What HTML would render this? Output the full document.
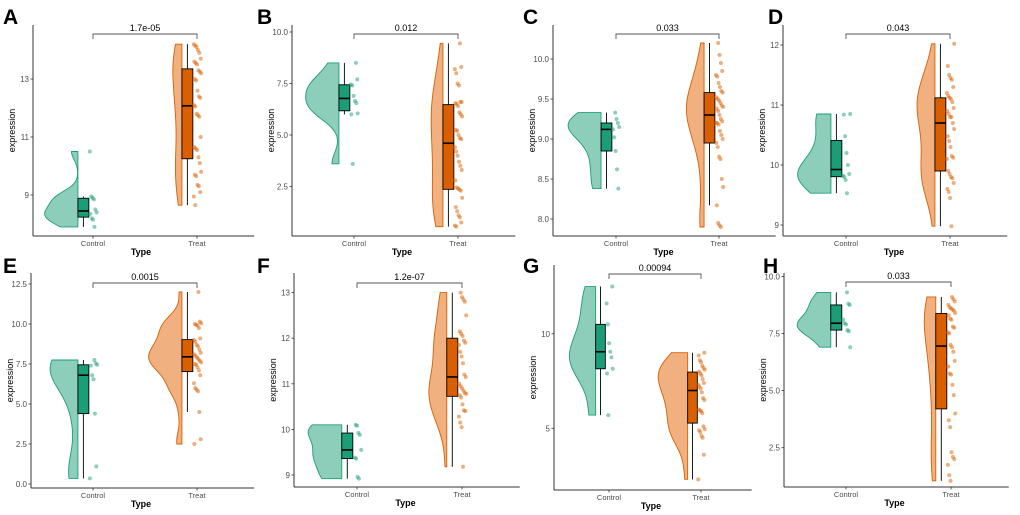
<!DOCTYPE html>
<html><head><meta charset="utf-8"><style>
html,body{margin:0;padding:0;background:#fff;}
svg{display:block;font-family:"Liberation Sans",sans-serif;}
</style></head><body>
<svg id="fig" width="1020" height="515" viewBox="0 0 1020 515" xmlns="http://www.w3.org/2000/svg"></svg>
<script>
// ---- data ----
const categories = ["Control","Treat"];
const ctrlA = [10.5,8.95,8.9,8.85,8.5,8.4,8.35,8.2,8.15,7.9];
const treatA = [14.2,14.15,14.1,14.0,13.9,13.7,13.6,13.55,13.5,13.3,13.25,13.2,13.0,12.95,12.6,12.4,12.35,12.1,12.05,11.8,11.75,11.7,11.0,10.65,10.6,10.55,10.3,10.1,9.8,9.7,9.65,9.35,9.3,9.1,8.95,8.65];
const ticksA = [9,11,13];
const ctrlB = [8.5,7.7,7.45,7.4,6.9,6.65,6.55,6.05,6.0,3.6];
const treatB = [9.45,8.3,8.2,8.0,7.5,7.4,6.6,6.6,6.55,6.5,6.4,6.1,6.0,5.9,5.25,5.2,5.0,4.85,4.8,4.4,4.2,4.0,3.7,3.5,3.3,2.8,2.45,2.4,2.35,2.3,1.95,1.5,1.3,1.1,1.0,0.75,0.6,0.55];
const ticksB = [2.5,5.0,7.5,10.0];
const ctrlC = [9.33,9.25,9.2,9.15,9.12,9.02,8.85,8.62,8.38];
const treatC = [10.2,10.05,9.95,9.85,9.8,9.78,9.7,9.65,9.6,9.58,9.52,9.5,9.48,9.45,9.42,9.4,9.38,9.35,9.3,9.25,9.22,9.2,9.2,9.18,9.1,9.05,9.0,8.95,8.9,8.78,8.75,8.5,8.4,8.17,7.95,7.92,7.9];
const ticksC = [8.0,8.5,9.0,9.5,10.0];
const ctrlD = [10.85,10.84,10.48,10.2,10.0,9.85,9.82,9.8,9.75,9.53];
const treatD = [12.02,11.65,11.5,11.45,11.42,11.3,11.2,11.15,11.12,11.1,11.05,10.95,10.9,10.85,10.8,10.8,10.7,10.6,10.48,10.4,10.3,10.15,10.12,10.1,9.9,9.85,9.8,9.78,9.7,9.6,9.55,9.45,8.98];
const ticksD = [9,10,11,12];
const ctrlE = [7.75,7.55,7.45,7.4,6.8,6.55,4.4,1.1,0.35];
const treatE = [12.0,10.15,10.05,10.0,9.95,9.9,9.75,9.1,9.0,8.9,8.7,8.6,8.4,8.2,8.1,8.0,7.9,7.8,7.7,7.6,7.5,7.45,7.3,7.1,6.8,6.3,6.0,5.9,5.8,4.5,2.8,2.5];
const ticksE = [0.0,2.5,5.0,7.5,10.0,12.5];
const ctrlF = [10.1,10.08,9.92,9.88,9.55,9.38,9.36,8.96,8.92];
const treatF = [13.0,12.9,12.85,12.8,12.5,12.15,12.1,12.05,11.95,11.9,11.85,11.7,11.6,11.45,11.2,11.15,11.0,10.95,10.9,10.85,10.8,10.78,10.75,10.7,10.55,10.42,10.4,10.28,10.15,10.05,9.18];
const ticksF = [9,10,11,12,13];
const ctrlG = [12.5,11.6,10.5,9.5,9.05,8.75,8.15,7.9,5.7];
const treatG = [9.0,8.85,8.6,8.5,8.3,8.2,8.1,8.0,7.9,7.8,7.6,7.4,7.3,7.2,7.1,6.9,6.6,6.5,6.0,5.95,5.9,5.8,5.1,4.95,4.9,4.8,4.6,4.5,3.6,2.3];
const ticksG = [5,10];
const ctrlH = [9.3,8.8,8.75,8.1,7.95,7.9,7.65,7.6,6.9];
const treatH = [9.1,9.0,8.9,8.75,8.65,8.6,8.55,8.5,8.4,8.3,8.15,8.1,7.8,7.75,7.55,7.5,7.0,6.9,6.7,6.3,6.05,5.75,5.7,5.25,4.8,4.0,3.7,3.4,2.3,2.1,2.0,1.75,1.3,1.05];
const ticksH = [2.5,5.0,7.5,10.0];
const pLabels = ["1.7e-05","0.012","0.033","0.043","0.0015","1.2e-07","0.00094","0.033"];
const tickDigits = [0,1,1,0,1,0,0,1];

// ---- layout (pixel calibration per panel) ----
const panels = [
 {id:"A",ctrl:ctrlA,treat:treatA,ticks:ticksA,ax:33,top:25,bot:236,cx:[93,197],v0:9,y0:195,ppu:29,br:34,lx:3,ly:24},
 {id:"B",ctrl:ctrlB,treat:treatB,ticks:ticksB,ax:292,top:25,bot:236,cx:[354,458],v0:5,y0:135,ppu:20.6,br:34,lx:257,ly:24},
 {id:"C",ctrl:ctrlC,treat:treatC,ticks:ticksC,ax:553,top:25,bot:236,cx:[616,719],v0:8,y0:219,ppu:80,br:34,lx:523,ly:24},
 {id:"D",ctrl:ctrlD,treat:treatD,ticks:ticksD,ax:783,top:25,bot:236,cx:[846,950],v0:9,y0:225,ppu:60,br:34,lx:768,ly:24},
 {id:"E",ctrl:ctrlE,treat:treatE,ticks:ticksE,ax:31,top:273,bot:488,cx:[93,197],v0:0,y0:484,ppu:16,br:283,lx:3,ly:273},
 {id:"F",ctrl:ctrlF,treat:treatF,ticks:ticksF,ax:294,top:273,bot:487,cx:[357,462],v0:9,y0:475,ppu:45.6,br:283,lx:257,ly:273},
 {id:"G",ctrl:ctrlG,treat:treatG,ticks:ticksG,ax:554,top:265,bot:490,cx:[609,701],v0:5,y0:428.3,ppu:18.9,br:274,lx:523,ly:273},
 {id:"H",ctrl:ctrlH,treat:treatH,ticks:ticksH,ax:784,top:273,bot:487,cx:[846,951],v0:2.5,y0:447.7,ppu:22.84,br:282,lx:763,ly:273}
];
const fills=[["#8dcebb","#1b9e77","#1b9e77"],["#f0b07f","#d95f02","#d95f02"]];
const NS="http://www.w3.org/2000/svg";
const svg=document.getElementById("fig");
function mk(tag,attrs,parent,text){const e=document.createElementNS(NS,tag);for(const k in attrs)e.setAttribute(k,attrs[k]);if(text!==undefined)e.textContent=text;(parent||svg).appendChild(e);return e;}
function quant(s,p){const h=(s.length-1)*p,l=Math.floor(h),u=Math.ceil(h);return s[l]+(s[u]-s[l])*(h-l);}
function sd(a){const m=a.reduce((x,y)=>x+y,0)/a.length;return Math.sqrt(a.reduce((x,y)=>x+(y-m)*(y-m),0)/(a.length-1));}
function bw(a){const s=[...a].sort((x,y)=>x-y);const iqr=quant(s,.75)-quant(s,.25);let lo=Math.min(sd(a),iqr/1.34);if(!(lo>0))lo=sd(a)||1;return 0.9*lo*Math.pow(a.length,-0.2);}
function dens(a,h,x){let t=0;for(const v of a){const z=(x-v)/h;t+=Math.exp(-0.5*z*z);}return t/(a.length*h*Math.sqrt(2*Math.PI));}

panels.forEach((P,pi)=>{
 const g=mk("g",{});
 
 
 const Y=v=>P.y0-(v-P.v0)*P.ppu;
 const d=P.cx[1]-P.cx[0];
 const X=i=>P.cx[i];
 // letter
 const L=mk("text",{x:P.lx,y:P.ly,"font-size":21,"font-weight":"bold",fill:"#000"},g,P.id);
 
 
 // axes
 const right=P.cx[1]+0.55*d;
 const ya=mk("line",{x1:P.ax,y1:P.top,x2:P.ax,y2:P.bot,stroke:"#333","stroke-width":1},g);
 
 
 const xa=mk("line",{x1:P.ax,y1:P.bot,x2:right,y2:P.bot,stroke:"#333","stroke-width":1},g);
 
 
 P.ticks.forEach(t=>{
  mk("line",{x1:P.ax-2.5,y1:Y(t),x2:P.ax,y2:Y(t),stroke:"#333","stroke-width":0.8},g);
  const tl=mk("text",{x:P.ax-4,y:Y(t)+3,"font-size":8,fill:"#4d4d4d","text-anchor":"end"},g,t.toFixed(tickDigits[pi]));
  
  
 });
 categories.forEach((c,i)=>{
  mk("line",{x1:X(i),y1:P.bot,x2:X(i),y2:P.bot+2.5,stroke:"#333","stroke-width":0.8},g);
  const xl=mk("text",{x:X(i),y:P.bot+10,"font-size":7.5,fill:"#4d4d4d","text-anchor":"middle"},g,c);
  
  
 });
 const xt=mk("text",{x:(P.cx[0]+P.cx[1])/2-4,y:P.bot+19,"font-size":9,"font-weight":"bold",fill:"#000","text-anchor":"middle"},g,"Type");
 
 
 const ymid=(P.top+P.bot)/2;
 const yt=mk("text",{x:0,y:0,"font-size":9,fill:"#000","text-anchor":"middle",transform:`translate(${P.ax-18},${ymid}) rotate(-90)`},g,"expression");
 
 
 // densities
 const groups=[P.ctrl,P.treat];
 const curves=groups.map(a=>{const h=bw(a),mn=Math.min(...a),mx=Math.max(...a);const pts=[];for(let k=0;k<=60;k++){const v=mn+(mx-mn)*k/60;pts.push([v,dens(a,h,v)]);}return pts;});
 const maxD=Math.max(...curves.map(c=>Math.max(...c.map(p=>p[1]))));
 const maxW=0.32*d;
 groups.forEach((a,i)=>{
  const cvr=curves[i];const vr=X(i)-0.145*d;
  let path=`M${vr},${Y(cvr[0][0])}`;
  cvr.forEach(p=>{path+=` L${(vr-p[1]/maxD*maxW).toFixed(2)},${Y(p[0]).toFixed(2)}`;});
  path+=` L${vr},${Y(cvr[cvr.length-1][0])} Z`;
  const vi=mk("path",{d:path,fill:fills[i][0],stroke:fills[i][1],"stroke-width":0.9},g);
  
  
  // box
  const s=[...a].sort((x,y)=>x-y);
  const q1=quant(s,.25),q2=quant(s,.5),q3=quant(s,.75),iq=q3-q1;
  const wlo=Math.min(...s.filter(v=>v>=q1-1.5*iq)),whi=Math.max(...s.filter(v=>v<=q3+1.5*iq));
  const bx=vr,bwid=0.105*d,wc=bx+bwid/2;
  mk("line",{x1:wc,y1:Y(whi),x2:wc,y2:Y(q3),stroke:"#000","stroke-width":0.9},g);
  mk("line",{x1:wc,y1:Y(q1),x2:wc,y2:Y(wlo),stroke:"#000","stroke-width":0.9},g);
  const bxr=mk("rect",{x:bx,y:Y(q3),width:bwid,height:Y(q1)-Y(q3),fill:fills[i][2],stroke:"#000","stroke-width":0.9},g);
  
  
  mk("line",{x1:bx,y1:Y(q2),x2:bx+bwid,y2:Y(q2),stroke:"#000","stroke-width":1.6},g);
  // points
  a.forEach((v,k)=>{
   const j=((k*37+pi*11)%17)/16;
   const pt=mk("circle",{cx:X(i)-0.03*d+j*0.07*d,cy:Y(v),r:2,fill:fills[i][1],"fill-opacity":0.5},g);
   
   
  });
 });
 // bracket
 const bk=mk("path",{d:`M${X(0)},${P.br+5} L${X(0)},${P.br} L${X(1)},${P.br} L${X(1)},${P.br+5}`,fill:"none",stroke:"#555","stroke-width":0.9},g);
 
 
 const pl=mk("text",{x:(X(0)+X(1))/2,y:P.br-3,"font-size":9,fill:"#000","text-anchor":"middle"},g,pLabels[pi]);
 
 
});
</script>
</body></html>
